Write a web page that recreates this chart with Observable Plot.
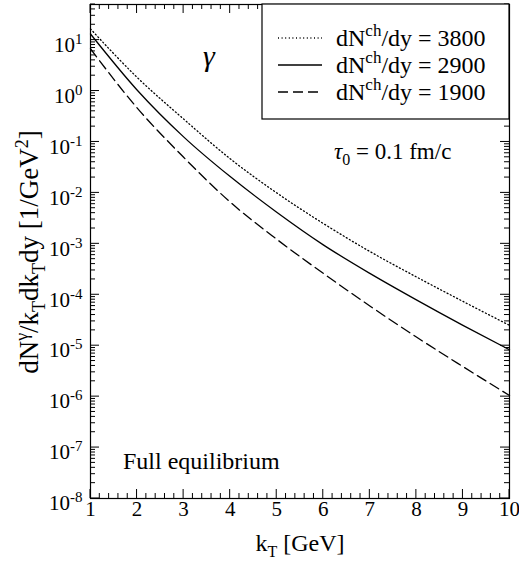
<!DOCTYPE html>
<html><head><meta charset="utf-8">
<script src="https://cdn.jsdelivr.net/npm/d3@7"></script>
<script src="https://cdn.jsdelivr.net/npm/@observablehq/plot@0.6"></script>
<style>body{margin:0;background:#fff} svg{display:block}</style>
</head><body><div id="chart"></div>
<script>
// ---- data ----
const kT = [1, 2, 3, 4, 5, 6, 7, 8, 9, 10];
const dN3800 = [16.6, 1.86, 0.282, 0.0468, 0.0100, 0.00251, 7.08e-4, 2.24e-4, 7.41e-5, 2.51e-5];
const dN2900 = [13.2, 1.05, 0.126, 0.0209, 0.00417, 9.55e-4, 2.63e-4, 7.94e-5, 2.51e-5, 8.3e-6];
const dN1900 = [6.76, 0.468, 0.0501, 0.00661, 0.00123, 2.63e-4, 6.03e-5, 1.48e-5, 3.89e-6, 1.05e-6];
const seriesLabels = ["3800", "2900", "1900"];
const yTickExponents = [-8, -7, -6, -5, -4, -3, -2, -1, 0, 1];
const xTicks = [1, 2, 3, 4, 5, 6, 7, 8, 9, 10];

const W = 519, H = 565, mL = 90, mR = 10, mT = 4, mB = 67;
const FONT = "'Liberation Serif', 'DejaVu Serif', serif";

const seriesValues = [dN3800, dN2900, dN1900];
const dashes = ["1,2.6", null, "10,5"];
const data = [];
seriesValues.forEach((vals, s) => kT.forEach((k, i) => data.push({k, v: vals[i], s: seriesLabels[s]})));

const yMajor = yTickExponents.map(e => Math.pow(10, e));
const yMinor = yTickExponents.flatMap(e => [2,3,4,5,6,7,8,9].map(m => m * Math.pow(10, e))).filter(v => v <= 50);
const xMinor = d3.range(10, 100, 2).filter(v => v % 10 !== 0).map(v => v / 10);

const lineMarks = seriesLabels.map((lab, s) =>
  Plot.line(data.filter(d => d.s === lab), {x: "k", y: "v", stroke: "black",
    strokeWidth: 1.3, strokeDasharray: dashes[s], curve: "monotone-x"}));

const chart = Plot.plot({
  width: W, height: H,
  marginLeft: mL, marginRight: mR, marginTop: mT, marginBottom: mB,
  style: {fontFamily: FONT, fontSize: "20px", background: "white", color: "black"},
  x: {domain: [1, 10], axis: null},
  y: {type: "log", domain: [1e-8, 50], axis: null},
  marks: [
    ...lineMarks,
    Plot.frame({stroke: "black", strokeWidth: 1.2}),
    Plot.text(xTicks, {x: d => d, frameAnchor: "bottom", dy: 17, text: d => String(d), fontSize: 21, fill: "black"}),
    Plot.text(yMajor, {y: d => d, frameAnchor: "left", dx: -8, dy: 5, textAnchor: "end",
      text: (d, i) => "10^" + yTickExponents[i], fontSize: 21, fill: "black"})
  ]
});
document.getElementById("chart").appendChild(chart);

const svg = d3.select(chart);
const xs = chart.scale("x"), ys = chart.scale("y");
const X0 = mL, X1 = W - mR, Y0 = H - mB, Y1 = mT;

// superscripts for the y tick labels
svg.selectAll("text").each(function() {
  const m = /^10\^(-?\d+)$/.exec(this.textContent);
  if (m) {
    const el = d3.select(this);
    el.text(null);
    el.append("tspan").text("10");
    el.append("tspan").attr("dy", -8).attr("font-size", 15).text(m[1]);
  }
});

// inward ticks on all four sides, placed through Plot's scales
const tk = svg.append("g").attr("stroke", "black").attr("stroke-width", 1);
function hTicks(vals, len) {
  vals.forEach(v => {
    const y = ys.apply(v);
    tk.append("line").attr("x1", X0).attr("x2", X0 + len).attr("y1", y).attr("y2", y);
    tk.append("line").attr("x1", X1).attr("x2", X1 - len).attr("y1", y).attr("y2", y);
  });
}
function vTicks(vals, len) {
  vals.forEach(v => {
    const x = xs.apply(v);
    tk.append("line").attr("x1", x).attr("x2", x).attr("y1", Y0).attr("y2", Y0 - len);
    tk.append("line").attr("x1", x).attr("x2", x).attr("y1", Y1).attr("y2", Y1 + len);
  });
}
hTicks(yMajor, 9); hTicks(yMinor, 5);
vTicks(xTicks, 9); vTicks(xMinor, 5);

const ann = svg.append("g").attr("font-family", FONT).attr("fill", "black").attr("text-anchor", "start");
// legend
const lg = ann.append("g");
lg.append("rect").attr("x", 262).attr("y", mT).attr("width", W - mR - 262).attr("height", 115)
  .attr("fill", "white").attr("stroke", "black").attr("stroke-width", 1.2);
const rowsY = [46, 73, 100];
seriesLabels.forEach((lab, i) => {
  lg.append("line").attr("x1", 278).attr("x2", 322).attr("y1", rowsY[i] - 8).attr("y2", rowsY[i] - 8)
    .attr("stroke", "black").attr("stroke-width", 1.3).attr("stroke-dasharray", dashes[i]);
  const t = lg.append("text").attr("x", 336).attr("y", rowsY[i]).attr("font-size", 24);
  t.append("tspan").text("dN");
  t.append("tspan").attr("dy", -10).attr("font-size", 17).text("ch");
  t.append("tspan").attr("dy", 10).text("/dy = " + lab);
});
// gamma
ann.append("text").attr("x", 203).attr("y", 66).attr("font-size", 30).attr("font-style", "italic").text("γ");
// tau
const tau = ann.append("text").attr("x", 334).attr("y", 159).attr("font-size", 23);
tau.append("tspan").attr("font-style", "italic").text("τ");
tau.append("tspan").attr("dy", 6).attr("font-size", 16).text("0");
tau.append("tspan").attr("dy", -6).text(" = 0.1 fm/c");
// full equilibrium
ann.append("text").attr("x", 123).attr("y", 469).attr("font-size", 24).text("Full equilibrium");
// x title
const xt = ann.append("text").attr("x", 300).attr("y", 551).attr("text-anchor", "middle").attr("font-size", 24);
xt.append("tspan").text("k");
xt.append("tspan").attr("dy", 6).attr("font-size", 16).text("T");
xt.append("tspan").attr("dy", -6).text(" [GeV]");
// y title
const yt = ann.append("text").attr("transform", `translate(38,252) rotate(-90)`).attr("text-anchor", "middle").attr("font-size", 27);
yt.append("tspan").text("dN");
yt.append("tspan").attr("dy", -10).attr("font-size", 18).text("γ");
yt.append("tspan").attr("dy", 10).text("/k");
yt.append("tspan").attr("dy", 7).attr("font-size", 18).text("T");
yt.append("tspan").attr("dy", -7).text("dk");
yt.append("tspan").attr("dy", 7).attr("font-size", 18).text("T");
yt.append("tspan").attr("dy", -7).text("dy [1/GeV");
yt.append("tspan").attr("dy", -10).attr("font-size", 18).text("2");
yt.append("tspan").attr("dy", 10).text("]");
</script>
</body></html>
